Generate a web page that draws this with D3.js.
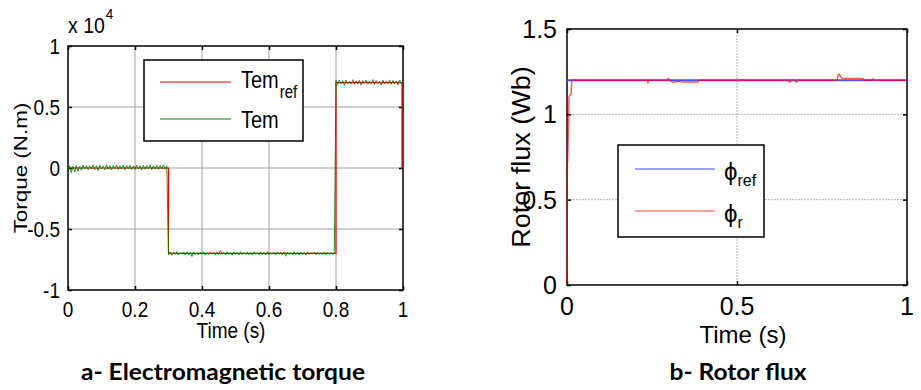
<!DOCTYPE html>
<html><head><meta charset="utf-8">
<script src="https://cdn.jsdelivr.net/npm/d3@7"></script>
<style>body{margin:0;background:#fff}svg{display:block}</style>
</head><body>
<svg id="c" width="921" height="390"></svg>
<script>
// ---------- data : panel a (torque) ----------
const timeTicksA = [0, 0.2, 0.4, 0.6, 0.8, 1];
const timeTickLabelsA = ["0", "0.2", "0.4", "0.6", "0.8", "1"];
const torqueTicks = [-10000, -5000, 0, 5000, 10000];
const torqueTickLabels = ["-1", "-0.5", "0", "0.5", "1"];
const temRefTime = [0, 0.3, 0.3, 0.8, 0.8, 0.997, 0.997, 1];
const temRefValues = [0, 0, -7000, -7000, 7000, 7000, 0, 0];
const temTime = d3.range(200).map(i => i * 0.005);
const temValues = [
  -120, 180, -380, 160, -320, 210, -260, 140, -180, 230, -90, 200, -150, 170, -60, 240, -130, 190, -200, 220,
  -80, 160, -140, 250, -100, 190, -170, 210, -60, 230, -120, 180, -90, 240, -150, 200, -70, 220, -130, 170,
  -110, 250, -80, 190, -160, 230, -100, 210, -60, 240, -140, 180, -90, 220, -120, 200, -70, 250, -110, 190,
  -7120, -6880, -7150, -6900, -7080, -6860, -7130, -6920, -7060, -6890, -7140, -6870, -7100, -6910, -7250, -6880, -7090, -6930, -7120, -6900,
  -7070, -6860, -7130, -6920, -7100, -6880, -7060, -6900, -7140, -6890, -7110, -6750, -7080, -6910, -7120, -6870, -7090, -6930, -7150, -6880,
  -7060, -6900, -7130, -6860, -7100, -6920, -7080, -6890, -7120, -6910, -7140, -6870, -7070, -6930, -7110, -6880, -7090, -6900, -7130, -6860,
  -7100, -6920, -7060, -6890, -7140, -6870, -7080, -6910, -7120, -6880, -7230, -6900, -7090, -6930, -7110, -6860, -7070, -6900, -7130, -6890,
  -7100, -6920, -7140, -6870, -7080, -6910, -7060, -6880, -7120, -6900, -7090, -6930, -7110, -6870, -7140, -6890, -7080, -6910, -7100, -6880,
  7180, 6850, 7220, 6900, 7150, 6780, 7200, 6920, 7120, 6880, 7230, 6860, 7140, 6910, 7190, 6800, 7160, 6930, 7210, 6870,
  7130, 6900, 7240, 6850, 7170, 6920, 7110, 6790, 7200, 6880, 7150, 6910, 7220, 6860, 7180, 6900, 7140, 6820, 7190, 6880
];

// ---------- data : panel b (rotor flux) ----------
const timeTicksB = [0, 0.5, 1];
const timeTickLabelsB = ["0", "0.5", "1"];
const fluxTicks = [0, 0.5, 1, 1.5];
const fluxTickLabels = ["0", "0.5", "1", "1.5"];
const phiRefTime = [0, 1];
const phiRefValues = [1.2, 1.2];
const phiRTime = [0, 0.001, 0.002, 0.006, 0.008, 0.012, 0.014, 0.235, 0.238, 0.241, 0.295, 0.298, 0.302, 0.31, 0.32, 0.33, 0.34, 0.35, 0.37, 0.385, 0.39,
  0.65, 0.655, 0.66, 0.67, 0.675, 0.68, 0.795, 0.797, 0.8, 0.805, 0.81, 0.87, 0.875, 0.895, 0.9, 0.905, 1];
const phiRValues = [0, 0.72, 0.72, 1.1, 1.11, 1.12, 1.2, 1.2, 1.185, 1.2, 1.2, 1.21, 1.2, 1.19, 1.19, 1.195, 1.19, 1.19, 1.19, 1.19, 1.2,
  1.2, 1.188, 1.2, 1.2, 1.188, 1.2, 1.2, 1.23, 1.235, 1.22, 1.21, 1.21, 1.2, 1.2, 1.207, 1.2, 1.2];

const captionA = "a- Electromagnetic torque";
const captionB = "b- Rotor flux";

// ---------- drawing ----------
const svg = d3.select("#c");
const FONT = "'Liberation Sans', Arial, sans-serif";

function txt(g, x, y, s, o = {}) {
  const sx = o.sx || 1, sy = o.sy || 1, rot = o.rot || 0;
  const t = g.append("text")
    .attr("transform", `translate(${x},${y})` + (rot ? ` rotate(${rot})` : "") + ` scale(${sx},${sy})`)
    .attr("font-family", o.family || FONT)
    .attr("font-size", o.size || 19)
    .attr("font-weight", o.weight || "normal")
    .attr("text-anchor", o.anchor || "start")
    .attr("fill", "#000")
    .text(s);
  return t;
}

function grid(cfg) {
  const g = svg.append("g");
  const x = cfg.x, y = cfg.y;
  const [x0, x1] = x.range(), [y0, y1] = y.range();
  g.append("g").selectAll("line").data(cfg.xTicks.filter(v => v !== x.domain()[0] && v !== x.domain()[1]))
    .join("line").attr("x1", d => x(d)).attr("x2", d => x(d)).attr("y1", y1).attr("y2", y0)
    .attr("stroke", cfg.gridColor).attr("stroke-width", 1).attr("stroke-dasharray", cfg.gridDash);
  g.append("g").selectAll("line").data(cfg.yTicks.filter(v => v !== y.domain()[0] && v !== y.domain()[1]))
    .join("line").attr("y1", d => y(d)).attr("y2", d => y(d)).attr("x1", x0).attr("x2", x1)
    .attr("stroke", cfg.gridColor).attr("stroke-width", 1).attr("stroke-dasharray", cfg.gridDash);
  return g;
}

function frame(g, x, y, cfg) {
  const [x0, x1] = x.range(), [y0, y1] = y.range();
  const tk = 4;
  const mk = (gen, tr) => g.append("g").attr("transform", tr).call(gen)
    .call(a => a.select(".domain").remove())
    .call(a => a.selectAll("line").attr("stroke", "#000").attr("stroke-width", 1.5));
  mk(d3.axisBottom(x).tickValues(cfg.xTicks).tickSize(-tk).tickFormat(""), `translate(0,${y0})`);
  mk(d3.axisTop(x).tickValues(cfg.xTicks).tickSize(-tk).tickFormat(""), `translate(0,${y1})`);
  mk(d3.axisLeft(y).tickValues(cfg.yTicks).tickSize(-tk).tickFormat(""), `translate(${x0},0)`);
  mk(d3.axisRight(y).tickValues(cfg.yTicks).tickSize(-tk).tickFormat(""), `translate(${x1},0)`);
  g.append("rect").attr("x", x0).attr("y", y1).attr("width", x1 - x0).attr("height", y0 - y1)
    .attr("fill", "none").attr("stroke", "#000").attr("stroke-width", 1.5);
}

// ===== Panel a =====
const xA = d3.scaleLinear().domain([0, 1]).range([68, 403]);
const yA = d3.scaleLinear().domain([-10000, 10000]).range([290, 46]);
const gA = grid({ x: xA, y: yA, xTicks: timeTicksA, yTicks: torqueTicks, gridColor: "#a0a0a0", gridDash: null });
frame(gA, xA, yA, { xTicks: timeTicksA, yTicks: torqueTicks });
const lineA = d3.line().x(d => xA(d[0])).y(d => yA(d[1]));
gA.append("path").datum(temRefTime.map((t, i) => [t, temRefValues[i]]))
  .attr("d", lineA).attr("fill", "none").attr("stroke", "#ff0000").attr("stroke-width", 1.2);
gA.append("path").datum(temTime.map((t, i) => [t, temValues[i]]))
  .attr("d", lineA).attr("fill", "none").attr("stroke", "#008000").attr("stroke-width", 1).attr("stroke-opacity", 0.85);

const SA = 1.12;
torqueTicks.forEach((v, i) => txt(gA, 60, yA(v) + 7.5, torqueTickLabels[i], { anchor: "end", sy: SA }));
timeTicksA.forEach((v, i) => txt(gA, xA(v), 317, timeTickLabelsA[i], { anchor: "middle", sy: SA }));
txt(gA, 231, 338, "Time (s)", { anchor: "middle", sy: SA });
txt(gA, 27, 168, "Torque (N.m)", { anchor: "middle", rot: -90, sx: 1.18 });
const xt = txt(gA, 68, 33, "x 10", { size: 19.5, sy: SA });
txt(gA, 68 + xt.node().getComputedTextLength() + 1, 19, "4", { size: 13.5, sy: SA });

// legend a
const legA = gA.append("g");
legA.append("rect").attr("x", 144).attr("y", 60).attr("width", 159).attr("height", 81)
  .attr("fill", "#fff").attr("stroke", "#000").attr("stroke-width", 1.5);
legA.append("line").attr("x1", 160).attr("x2", 231).attr("y1", 82).attr("y2", 82).attr("stroke", "#ff0000").attr("stroke-width", 1);
legA.append("line").attr("x1", 160).attr("x2", 231).attr("y1", 119).attr("y2", 119).attr("stroke", "#008000").attr("stroke-width", 1);
const t1 = txt(legA, 241, 88, "Tem", { size: 20, sy: 1.2 });
txt(legA, 241 + t1.node().getComputedTextLength() + 1, 98, "ref", { size: 15, sy: 1.2 });
txt(legA, 241, 128, "Tem", { size: 20, sy: 1.2 });

// ===== Panel b =====
const xB = d3.scaleLinear().domain([0, 1]).range([567, 907]);
const yB = d3.scaleLinear().domain([0, 1.5]).range([285, 29]);
const gB = grid({ x: xB, y: yB, xTicks: timeTicksB, yTicks: fluxTicks, gridColor: "#b4b4b4", gridDash: "2,1" });
frame(gB, xB, yB, { xTicks: timeTicksB, yTicks: fluxTicks });
const lineB = d3.line().x(d => xB(d[0])).y(d => yB(d[1]));
gB.append("path").datum(phiRefTime.map((t, i) => [t, phiRefValues[i]]))
  .attr("d", lineB).attr("fill", "none").attr("stroke", "#5050ff").attr("stroke-width", 2);
gB.append("path").datum(phiRTime.map((t, i) => [t, phiRValues[i]]))
  .attr("d", lineB).attr("fill", "none").attr("stroke", "#ff0000").attr("stroke-width", 1.5).attr("stroke-opacity", 0.65);

fluxTicks.forEach((v, i) => txt(gB, 557, yB(v) + 9, fluxTickLabels[i], { anchor: "end", size: 25 }));
timeTicksB.forEach((v, i) => txt(gB, xB(v), 315, timeTickLabelsB[i], { anchor: "middle", size: 25 }));
txt(gB, 743, 342.5, "Time (s)", { anchor: "middle", size: 24 });
txt(gB, 530, 157, "Rotor flux (Wb)", { anchor: "middle", rot: -90, size: 25, sx: 1.08 });

// legend b
const legB = gB.append("g");
legB.append("rect").attr("x", 618).attr("y", 145).attr("width", 146).attr("height", 92)
  .attr("fill", "#fff").attr("stroke", "#000").attr("stroke-width", 1.5);
legB.append("line").attr("x1", 635).attr("x2", 715).attr("y1", 169).attr("y2", 169).attr("stroke", "#4a4aff").attr("stroke-width", 1.2);
legB.append("line").attr("x1", 635).attr("x2", 715).attr("y1", 211).attr("y2", 211).attr("stroke", "#ff4040").attr("stroke-width", 1.2);
const p1 = txt(legB, 724, 180, "\u03d5", { size: 24 });
txt(legB, 724 + p1.node().getComputedTextLength(), 186, "ref", { size: 16 });
const p2 = txt(legB, 724, 222, "\u03d5", { size: 24 });
txt(legB, 724 + p2.node().getComputedTextLength(), 228, "r", { size: 16 });

// ===== captions =====
txt(svg, 223, 380, captionA, { anchor: "middle", size: 22, weight: "bold", family: "Lato, 'Open Sans', sans-serif" })
  .attr("textLength", 284).attr("lengthAdjust", "spacingAndGlyphs");
txt(svg, 738, 380, captionB, { anchor: "middle", size: 22, weight: "bold", family: "Lato, 'Open Sans', sans-serif" })
  .attr("textLength", 137).attr("lengthAdjust", "spacingAndGlyphs");
</script>
</body></html>
